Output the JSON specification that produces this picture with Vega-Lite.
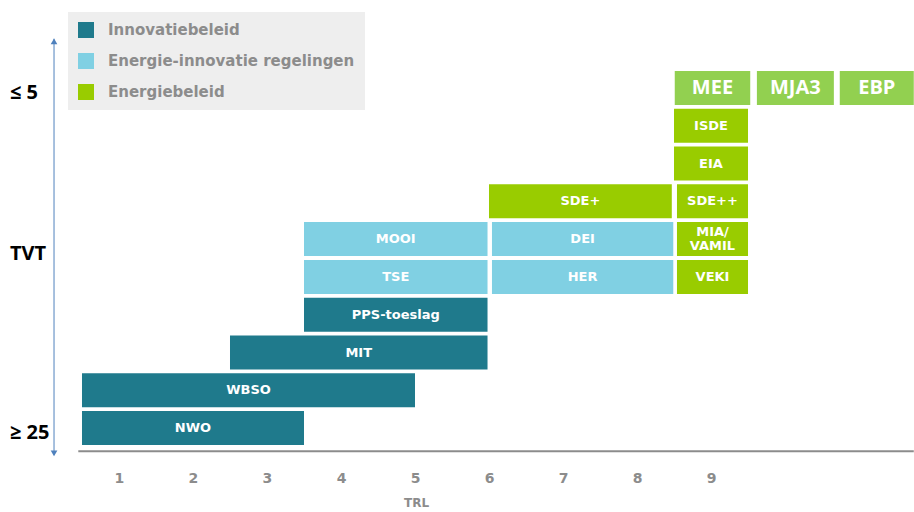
{
  "$schema": "https://vega.github.io/schema/vega-lite/v6.json",
  "width": 914,
  "height": 388,
  "autosize": {"type": "none"},
  "padding": {"left": 0, "right": 0, "top": 64, "bottom": 60},
  "background": "white",
  "config": {"view": {"stroke": null}},
  "data": {
    "values": [
      {"label": "NWO", "category": "Innovatiebeleid", "start": 0.5, "end": 3.5, "row": 1},
      {"label": "WBSO", "category": "Innovatiebeleid", "start": 0.5, "end": 5.0, "row": 2},
      {"label": "MIT", "category": "Innovatiebeleid", "start": 2.5, "end": 5.98, "row": 3},
      {"label": "PPS-toeslag", "category": "Innovatiebeleid", "start": 3.5, "end": 5.98, "row": 4},
      {"label": "TSE", "category": "Energie-innovatie regelingen", "start": 3.5, "end": 5.98, "row": 5},
      {"label": "HER", "category": "Energie-innovatie regelingen", "start": 6.04, "end": 8.49, "row": 5},
      {"label": "MOOI", "category": "Energie-innovatie regelingen", "start": 3.5, "end": 5.98, "row": 6},
      {"label": "DEI", "category": "Energie-innovatie regelingen", "start": 6.04, "end": 8.49, "row": 6},
      {"label": "VEKI", "category": "Energiebeleid", "start": 8.54, "end": 9.5, "row": 5},
      {"label": "MIA/\nVAMIL", "category": "Energiebeleid", "start": 8.54, "end": 9.5, "row": 6},
      {"label": "SDE+", "category": "Energiebeleid", "start": 6.0, "end": 8.47, "row": 7},
      {"label": "SDE++", "category": "Energiebeleid", "start": 8.54, "end": 9.5, "row": 7},
      {"label": "EIA", "category": "Energiebeleid", "start": 8.5, "end": 9.5, "row": 8},
      {"label": "ISDE", "category": "Energiebeleid", "start": 8.5, "end": 9.5, "row": 9},
      {"label": "MEE", "category": "Energiebeleid algemeen", "start": 8.51, "end": 9.53, "row": 10},
      {"label": "MJA3", "category": "Energiebeleid algemeen", "start": 9.62, "end": 10.66, "row": 10},
      {"label": "EBP", "category": "Energiebeleid algemeen", "start": 10.74, "end": 11.74, "row": 10}
    ]
  },
  "layer": [
    {
      "mark": {"type": "bar", "size": 34},
      "encoding": {
        "x": {
          "field": "start", "type": "quantitative",
          "scale": {"domain": [-0.608, 11.743], "nice": false, "zero": false},
          "axis": {
            "values": [1, 2, 3, 4, 5, 6, 7, 8, 9], "format": "d",
            "domain": false, "ticks": false, "grid": false,
            "labelFont": "DejaVu Sans", "labelFontWeight": "bold", "labelFontSize": 14,
            "labelColor": "#8c8c8c", "labelPadding": 19,
            "title": "TRL", "titleFont": "DejaVu Sans", "titleFontWeight": "bold",
            "titleFontSize": 12, "titleColor": "#8c8c8c", "titleX": 416, "titlePadding": 12
          }
        },
        "x2": {"field": "end"},
        "y": {
          "field": "row", "type": "quantitative",
          "scale": {"domain": [0.5, 10.5], "nice": false, "zero": false},
          "axis": null
        },
        "color": {
          "field": "category", "type": "nominal",
          "scale": {
            "domain": ["Innovatiebeleid", "Energie-innovatie regelingen", "Energiebeleid", "Energiebeleid algemeen"],
            "range": ["#1f7a8c", "#80d0e3", "#99cc00", "#92d050"]
          },
          "legend": {
            "values": ["Innovatiebeleid", "Energie-innovatie regelingen", "Energiebeleid"],
            "orient": "none", "legendX": 68, "legendY": -52,
            "title": null, "fillColor": "#eeeeee", "padding": 10,
            "symbolType": "square", "symbolSize": 256, "symbolStrokeWidth": 0,
            "symbolOpacity": 1, "labelLimit": 400,
            "labelFont": "DejaVu Sans", "labelFontWeight": "bold", "labelFontSize": 15,
            "labelColor": "#8c8c8c", "labelOffset": 14, "rowPadding": 15
          }
        }
      }
    },
    {
      "transform": [
        {"filter": "datum.category != 'Energiebeleid algemeen' && indexof(datum.label, '\\n') < 0"},
        {"fold": ["start", "end"], "as": ["edge", "pos"]}
      ],
      "mark": {"type": "text", "color": "white", "font": "DejaVu Sans", "fontWeight": "bold", "fontSize": 13, "baseline": "middle"},
      "encoding": {
        "x": {"field": "pos", "aggregate": "mean", "type": "quantitative"},
        "y": {"field": "row", "type": "quantitative"},
        "text": {"field": "label", "type": "nominal"}
      }
    },
    {
      "transform": [
        {"filter": "indexof(datum.label, '\\n') >= 0"},
        {"fold": ["start", "end"], "as": ["edge", "pos"]}
      ],
      "mark": {"type": "text", "color": "white", "font": "DejaVu Sans", "fontWeight": "bold", "fontSize": 13, "lineBreak": "\n", "lineHeight": 14, "baseline": "middle", "dy": -7},
      "encoding": {
        "x": {"field": "pos", "aggregate": "mean", "type": "quantitative"},
        "y": {"field": "row", "type": "quantitative"},
        "text": {"field": "label", "type": "nominal"}
      }
    },
    {
      "transform": [
        {"filter": "datum.category == 'Energiebeleid algemeen'"},
        {"fold": ["start", "end"], "as": ["edge", "pos"]}
      ],
      "mark": {"type": "text", "color": "white", "font": "Open Sans", "fontWeight": "bold", "fontSize": 20, "baseline": "middle"},
      "encoding": {
        "x": {"field": "pos", "aggregate": "mean", "type": "quantitative"},
        "y": {"field": "row", "type": "quantitative"},
        "text": {"field": "label", "type": "nominal"}
      }
    },
    {
      "data": {"values": [{"t": "≤ 5", "row": 9.87}, {"t": "TVT", "row": 5.6}, {"t": "≥ 25", "row": 0.86}]},
      "mark": {"type": "text", "align": "left", "baseline": "middle", "font": "Open Sans", "fontWeight": "bold", "fontSize": 20, "color": "black"},
      "encoding": {
        "x": {"datum": -0.473, "type": "quantitative"},
        "y": {"field": "row", "type": "quantitative"},
        "text": {"field": "t", "type": "nominal"}
      }
    },
    {
      "data": {"values": [{}]},
      "mark": {"type": "rule", "color": "#4f81bd", "strokeWidth": 1},
      "encoding": {
        "x": {"datum": 0.122, "type": "quantitative"},
        "y": {"datum": 0.3, "type": "quantitative"},
        "y2": {"datum": 11.3}
      }
    },
    {
      "data": {"values": [{}]},
      "mark": {"type": "point", "shape": "triangle-up", "filled": true, "color": "#4f81bd", "size": 45, "opacity": 1},
      "encoding": {
        "x": {"datum": 0.122, "type": "quantitative"},
        "y": {"datum": 11.23, "type": "quantitative"}
      }
    },
    {
      "data": {"values": [{}]},
      "mark": {"type": "point", "shape": "triangle-down", "filled": true, "color": "#4f81bd", "size": 45, "opacity": 1},
      "encoding": {
        "x": {"datum": 0.122, "type": "quantitative"},
        "y": {"datum": 0.33, "type": "quantitative"}
      }
    },
    {
      "data": {"values": [{}]},
      "mark": {"type": "rule", "color": "#8c8c8c", "strokeWidth": 2},
      "encoding": {
        "x": {"datum": 0.45, "type": "quantitative"},
        "x2": {"datum": 11.74},
        "y": {"datum": 0.39, "type": "quantitative"}
      }
    }
  ]
}
